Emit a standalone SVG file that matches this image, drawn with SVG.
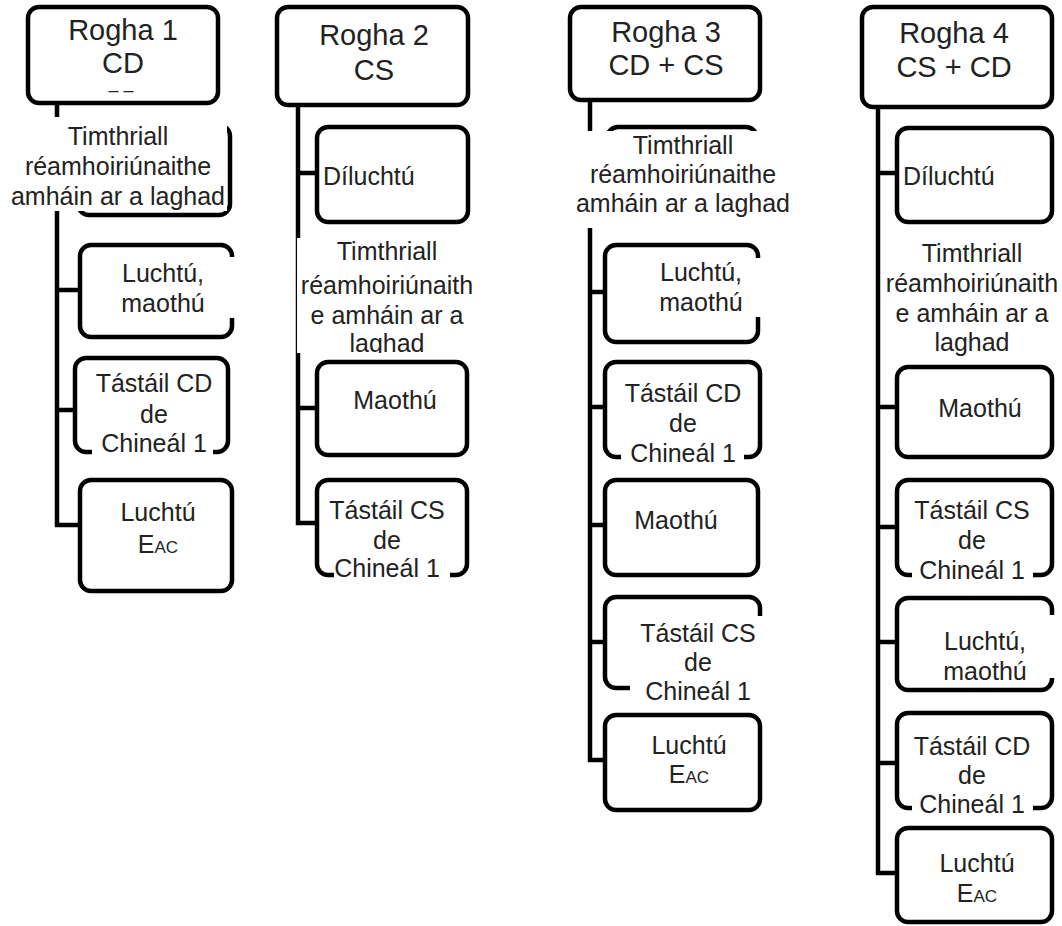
<svg xmlns="http://www.w3.org/2000/svg" width="1062" height="926" viewBox="0 0 1062 926">
<style>
.box{fill:#fff;stroke:#000;stroke-width:4.5}
.hd{fill:#fff;stroke:#000;stroke-width:4.5}
.m{fill:#fff}
.ln{fill:none;stroke:#000;stroke-width:4.5}
text{font-family:"Liberation Sans",Arial,sans-serif;fill:#222}
.t{font-size:25px;text-anchor:middle}
.tl{font-size:25px}
.h{font-size:29px;text-anchor:middle}
.s{font-size:17px}
</style>
<defs>
<clipPath id="c2"><rect x="297" y="238" width="190" height="115"/></clipPath>
</defs>
<g id="connectors">
<path class="ln" d="M57,103 V525 H80 M57,290 H80 M57,410 H75 M57,167 H78"/>
<path class="ln" d="M298,105 V523 H317 M298,173 H317 M298,408 H317"/>
<path class="ln" d="M590,100 V760 H605 M590,292 H605 M590,407 H605 M590,525 H605 M590,642 H605 M590,175 H607"/>
<path class="ln" d="M878,107 V873 H897 M878,173 H897 M878,407 H897 M878,527 H897 M878,642 H897 M878,763 H897"/>
</g>
<g id="col1-head"><rect class="hd" x="28" y="7" width="190" height="96" rx="11"/><text class="h" x="123" y="40">Rogha 1</text><text class="h" x="123" y="73">CD</text><text x="121" y="96" style="font-size:18px;text-anchor:middle">– –</text></g>
<g id="col1-n1"><rect class="box" x="78" y="125" width="152" height="90" rx="11"/><rect class="m" x="4" y="117" width="223" height="94"/><text class="t" x="118" y="145">Timthriall</text><text class="t" x="118" y="175">réamhoiriúnaithe</text><text class="t" x="118" y="205">amháin ar a laghad</text></g>
<g id="col1-n2"><rect class="box" x="80" y="245" width="152" height="92" rx="11"/><rect class="m" x="110" y="257" width="126" height="61"/><text class="t" x="163" y="282">Luchtú,</text><text class="t" x="163" y="312">maothú</text></g>
<g id="col1-n3"><rect class="box" x="75" y="358" width="153" height="94" rx="11"/><rect class="m" x="92" y="370" width="121" height="86"/><text class="t" x="154" y="392">Tástáil CD</text><text class="t" x="154" y="423">de</text><text class="t" x="154" y="452">Chineál 1</text></g>
<g id="col1-n4"><rect class="box" x="80" y="480" width="152" height="111" rx="11"/><text class="t" x="158" y="521">Luchtú</text><text class="t" x="158" y="553">E<tspan class="s">AC</tspan></text></g>

<g id="col2-head"><rect class="hd" x="277" y="7" width="191" height="98" rx="11"/><text class="h" x="374" y="45">Rogha 2</text><text class="h" x="374" y="80">CS</text></g>
<g id="col2-n1"><rect class="box" x="317" y="127" width="151" height="95" rx="11"/><text class="tl" x="323" y="185">Díluchtú</text></g>
<g id="col2-n2"><rect class="m" x="297" y="238" width="190" height="115"/><g clip-path="url(#c2)"><text class="t" x="387" y="260">Timthriall</text><text class="t" x="387" y="294">réamhoiriúnaith</text><text class="t" x="387" y="324">e amháin ar a</text><text class="t" x="387" y="352">laghad</text></g></g>
<g id="col2-n3"><rect class="box" x="317" y="362" width="150" height="93" rx="11"/><text class="t" x="395" y="409">Maothú</text></g>
<g id="col2-n4"><rect class="box" x="317" y="480" width="150" height="95" rx="11"/><rect class="m" x="334" y="490" width="116" height="90"/><text class="t" x="387" y="519">Tástáil CS</text><text class="t" x="387" y="549">de</text><text class="t" x="387" y="577">Chineál 1</text></g>

<g id="col3-head"><rect class="hd" x="570" y="7" width="190" height="93" rx="11"/><text class="h" x="666" y="42">Rogha 3</text><text class="h" x="666" y="75">CD + CS</text></g>
<g id="col3-n1"><rect class="box" x="607" y="127" width="150" height="93" rx="11"/><rect class="m" x="575" y="131" width="225" height="97"/><text class="t" x="683" y="154">Timthriall</text><text class="t" x="683" y="183">réamhoiriúnaithe</text><text class="t" x="683" y="212">amháin ar a laghad</text></g>
<g id="col3-n2"><rect class="box" x="605" y="245" width="153" height="97" rx="11"/><rect class="m" x="625" y="258" width="140" height="59"/><text class="t" x="701" y="281">Luchtú,</text><text class="t" x="701" y="311">maothú</text></g>
<g id="col3-n3"><rect class="box" x="605" y="362" width="155" height="95" rx="11"/><rect class="m" x="621" y="372" width="123" height="90"/><text class="t" x="683" y="402">Tástáil CD</text><text class="t" x="683" y="432">de</text><text class="t" x="683" y="462">Chineál 1</text></g>
<g id="col3-n4"><rect class="box" x="605" y="480" width="153" height="95" rx="11"/><text class="t" x="676" y="529">Maothú</text></g>
<g id="col3-n5"><rect class="box" x="605" y="597" width="155" height="91" rx="11"/><rect class="m" x="630" y="616" width="140" height="84"/><text class="t" x="698" y="642">Tástáil CS</text><text class="t" x="698" y="671">de</text><text class="t" x="698" y="700">Chineál 1</text></g>
<g id="col3-n6"><rect class="box" x="605" y="715" width="155" height="95" rx="11"/><text class="t" x="689" y="754">Luchtú</text><text class="t" x="689" y="783">E<tspan class="s">AC</tspan></text></g>

<g id="col4-head"><rect class="hd" x="862" y="7" width="190" height="100" rx="11"/><text class="h" x="954" y="43">Rogha 4</text><text class="h" x="954" y="77">CS + CD</text></g>
<g id="col4-n1"><rect class="box" x="897" y="128" width="155" height="94" rx="11"/><text class="tl" x="903" y="185">Díluchtú</text></g>
<g id="col4-n2"><text class="t" x="972" y="262">Timthriall</text><text class="t" x="972" y="292">réamhoiriúnaith</text><text class="t" x="972" y="322">e amháin ar a</text><text class="t" x="972" y="351">laghad</text></g>
<g id="col4-n3"><rect class="box" x="897" y="367" width="155" height="90" rx="11"/><text class="t" x="980" y="417">Maothú</text></g>
<g id="col4-n4"><rect class="box" x="897" y="480" width="155" height="95" rx="11"/><rect class="m" x="912" y="490" width="121" height="92"/><text class="t" x="972" y="519">Tástáil CS</text><text class="t" x="972" y="549">de</text><text class="t" x="972" y="579">Chineál 1</text></g>
<g id="col4-n5"><rect class="box" x="897" y="598" width="155" height="92" rx="11"/><rect class="m" x="920" y="615" width="140" height="63"/><text class="t" x="985" y="650">Luchtú,</text><text class="t" x="985" y="680">maothú</text></g>
<g id="col4-n6"><rect class="box" x="897" y="713" width="155" height="95" rx="11"/><rect class="m" x="912" y="725" width="121" height="87"/><text class="t" x="972" y="755">Tástáil CD</text><text class="t" x="972" y="784">de</text><text class="t" x="972" y="813">Chineál 1</text></g>
<g id="col4-n7"><rect class="box" x="897" y="828" width="155" height="94" rx="11"/><text class="t" x="977" y="872">Luchtú</text><text class="t" x="977" y="902">E<tspan class="s">AC</tspan></text></g>
</svg>
